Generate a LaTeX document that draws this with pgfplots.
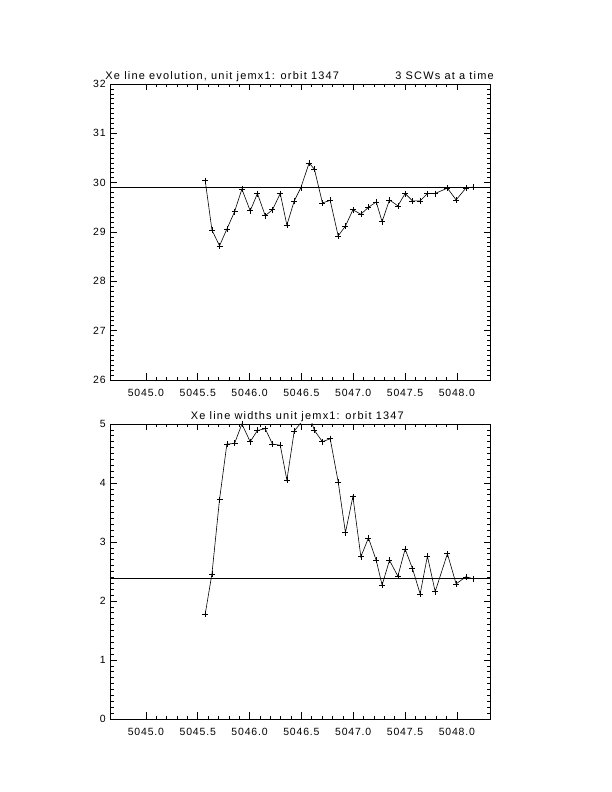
\documentclass[border=0pt]{standalone}
\usepackage{fontspec}
\setmainfont{Liberation Sans}
\newfontfamily\idl[LetterSpace=8]{Liberation Sans}
\newfontfamily\idlt[LetterSpace=11]{Liberation Sans}
\usepackage{pgfplots}
\pgfplotsset{compat=1.18}

\pgfplotsset{
  idl/.style={
    scale only axis,
    width=379.3bp,
    anchor=south west,
    xmin=5044.66, xmax=5048.32,
    xtick={5045,5045.5,5046,5046.5,5047,5047.5,5048},
    minor x tick num=4,
    minor y tick num=9,
    xtick pos=both, ytick pos=both,
    xticklabel pos=lower, yticklabel pos=left,
    tick align=inside,
    major tick length=6.5bp,
    minor tick length=3.2bp,
    every tick/.style={black, line width=0.6pt},
    axis line style={line width=0.6pt},
    x tick label style={/pgf/number format/.cd, fixed, fixed zerofill, precision=1, 1000 sep={}},
    y tick label style={/pgf/number format/.cd, fixed, precision=0},
    /pgf/number format/assume math mode=true,
    tick label style={font=\idl\fontsize{10.5}{12}\selectfont},
    xticklabel shift=6bp,
    yticklabel shift=1.5bp,
    clip=true,
  },
  dat/.style={black, line width=0.6pt, mark=+, mark size=3bp, mark options={line width=0.6pt}},
}

\begin{document}
\begin{tikzpicture}
\path[use as bounding box] (0bp,0bp) rectangle (612bp,792bp);

\begin{axis}[idl, name=top, at={(110.7bp,412bp)}, height=296bp, ymin=26, ymax=32, ytick={26,27,28,29,30,31,32}]
\addplot[black, line width=0.6pt] coordinates {(5044.66,29.90) (5048.32,29.90)};
\addplot[dat] coordinates {
(5045.572,30.04) (5045.637,29.04) (5045.710,28.72) (5045.781,29.06) (5045.855,29.41)
(5045.926,29.87) (5046.006,29.43) (5046.076,29.78) (5046.151,29.33) (5046.221,29.45)
(5046.296,29.78) (5046.360,29.14) (5046.431,29.63) (5046.495,29.90) (5046.575,30.40)
(5046.626,30.27) (5046.703,29.59) (5046.778,29.64) (5046.855,28.92) (5046.925,29.12)
(5046.997,29.45) (5047.074,29.36) (5047.147,29.50) (5047.222,29.61) (5047.279,29.21)
(5047.350,29.65) (5047.431,29.53) (5047.501,29.78) (5047.572,29.63) (5047.646,29.63)
(5047.716,29.78) (5047.791,29.78) (5047.909,29.89) (5047.993,29.65) (5048.087,29.89)
(5048.154,29.91)
};
\end{axis}
\node[anchor=base west, inner sep=0pt, font=\idlt\fontsize{11}{13}\selectfont] at ([xshift=-5.5bp, yshift=4bp]top.north west) {Xe line evolution, unit jemx1: orbit 1347};
\node[anchor=base east, inner sep=0pt, font=\idlt\fontsize{11}{13}\selectfont] at ([xshift=4bp, yshift=4bp]top.north east) {3 SCWs at a time};

\begin{axis}[idl, name=bot, at={(110.7bp,73bp)}, height=295bp, ymin=0, ymax=5, ytick={0,1,2,3,4,5}]
\addplot[black, line width=0.6pt] coordinates {(5044.66,2.38) (5048.32,2.38)};
\addplot[dat] coordinates {
(5045.572,1.78) (5045.637,2.46) (5045.710,3.72) (5045.781,4.66) (5045.855,4.67)
(5045.926,5.00) (5046.006,4.70) (5046.076,4.89) (5046.151,4.92) (5046.221,4.66)
(5046.296,4.64) (5046.360,4.05) (5046.431,4.88) (5046.495,5.02) (5046.575,5.15)
(5046.626,4.89) (5046.703,4.70) (5046.778,4.75) (5046.855,4.02) (5046.925,3.16)
(5046.997,3.77) (5047.074,2.75) (5047.147,3.07) (5047.222,2.69) (5047.279,2.27)
(5047.350,2.69) (5047.431,2.42) (5047.501,2.88) (5047.572,2.55) (5047.646,2.12)
(5047.716,2.76) (5047.791,2.16) (5047.909,2.80) (5047.993,2.29) (5048.087,2.41)
(5048.154,2.38)
};
\end{axis}
\node[anchor=base, inner sep=0pt, font=\idlt\fontsize{11}{13}\selectfont] at ([xshift=-3bp, yshift=4bp]bot.north) {Xe line widths unit jemx1: orbit 1347};
\end{tikzpicture}
\end{document}
